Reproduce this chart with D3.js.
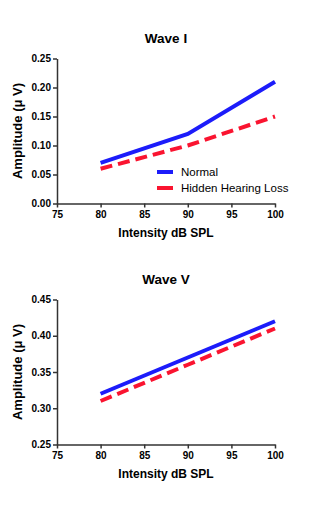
<!DOCTYPE html>
<html>
<head>
<meta charset="utf-8">
<script src="https://cdn.jsdelivr.net/npm/d3@7"></script>
<style>
  body { margin: 0; background: #fff; }
  svg { display: block; font-family: "Liberation Sans", Arial, sans-serif; }
  .axis path, .axis line { stroke: #333; stroke-width: 1.5; }
  .axis text { font-size: 10px; font-weight: bold; fill: #000; }
</style>
</head>
<body>
<div id="chart"></div>
<script>
var width = 323;
var height = 511;

// data
var intensity = [80, 90, 100];
var waveINormal = [0.07, 0.12, 0.21];
var waveIHidden = [0.06, 0.10, 0.15];
var waveVNormal = [0.32, 0.37, 0.42];
var waveVHidden = [0.31, 0.36, 0.41];
var xTicks = [75, 80, 85, 90, 95, 100];
var waveITicks = [0, 0.05, 0.10, 0.15, 0.20, 0.25];
var waveVTicks = [0.25, 0.30, 0.35, 0.40, 0.45];
var seriesNames = ["Normal", "Hidden Hearing Loss"];

var blue = "#1c1cfa";
var red = "#fa1430";

var svg = d3.select("#chart")
    .append("svg")
    .attr("width", width)
    .attr("height", height);

var xScale = d3.scaleLinear().domain([75, 100]).range([57, 275]);

function drawPanel(title, top, bottom, yDomain, yTicks, normal, hidden, legend) {
    var yScale = d3.scaleLinear().domain(yDomain).range([bottom, top]);

    svg.append("g")
        .attr("class", "axis")
        .attr("transform", "translate(0," + bottom + ")")
        .call(d3.axisBottom(xScale).tickValues(xTicks).tickSize(4).tickPadding(3).tickSizeOuter(0));

    svg.append("g")
        .attr("class", "axis")
        .attr("transform", "translate(57,0)")
        .call(d3.axisLeft(yScale).tickValues(yTicks).tickSize(4).tickPadding(2).tickSizeOuter(0)
            .tickFormat(d3.format(".2f")));

    var line = d3.line()
        .x(function(d, i) { return xScale(intensity[i]); })
        .y(function(d) { return yScale(d); });

    svg.append("path")
        .datum(normal)
        .attr("d", line)
        .attr("fill", "none")
        .attr("stroke", blue)
        .attr("stroke-width", 4);

    svg.append("path")
        .datum(hidden)
        .attr("d", line)
        .attr("fill", "none")
        .attr("stroke", red)
        .attr("stroke-width", 4)
        .attr("stroke-dasharray", "12,6");

    svg.append("text")
        .attr("x", 166)
        .attr("y", top - 16)
        .attr("text-anchor", "middle")
        .style("font-size", "13.5px")
        .style("font-weight", "bold")
        .text(title);

    svg.append("text")
        .attr("x", 166)
        .attr("y", bottom + 33)
        .attr("text-anchor", "middle")
        .style("font-size", "12px")
        .style("font-weight", "bold")
        .text("Intensity dB SPL");

    svg.append("text")
        .attr("transform", "translate(22," + ((top + bottom) / 2) + ") rotate(-90)")
        .attr("text-anchor", "middle")
        .style("font-size", "13px")
        .style("font-weight", "bold")
        .text("Amplitude (\u03bc V)");

    if (legend) {
        var lg = svg.append("g");
        seriesNames.forEach(function(name, i) {
            var y = 172 + i * 16;
            lg.append("line")
                .attr("x1", 157).attr("x2", 173)
                .attr("y1", y).attr("y2", y)
                .attr("stroke", i == 0 ? blue : red)
                .attr("stroke-width", 4);
            lg.append("text")
                .attr("x", 181)
                .attr("y", y + 4)
                .style("font-size", "11.5px")
                .text(name);
        });
    }
}

drawPanel("Wave I", 58.5, 203.5, [0, 0.25], waveITicks, waveINormal, waveIHidden, true);
drawPanel("Wave V", 299.5, 444.5, [0.25, 0.45], waveVTicks, waveVNormal, waveVHidden, false);
</script>
</body>
</html>
